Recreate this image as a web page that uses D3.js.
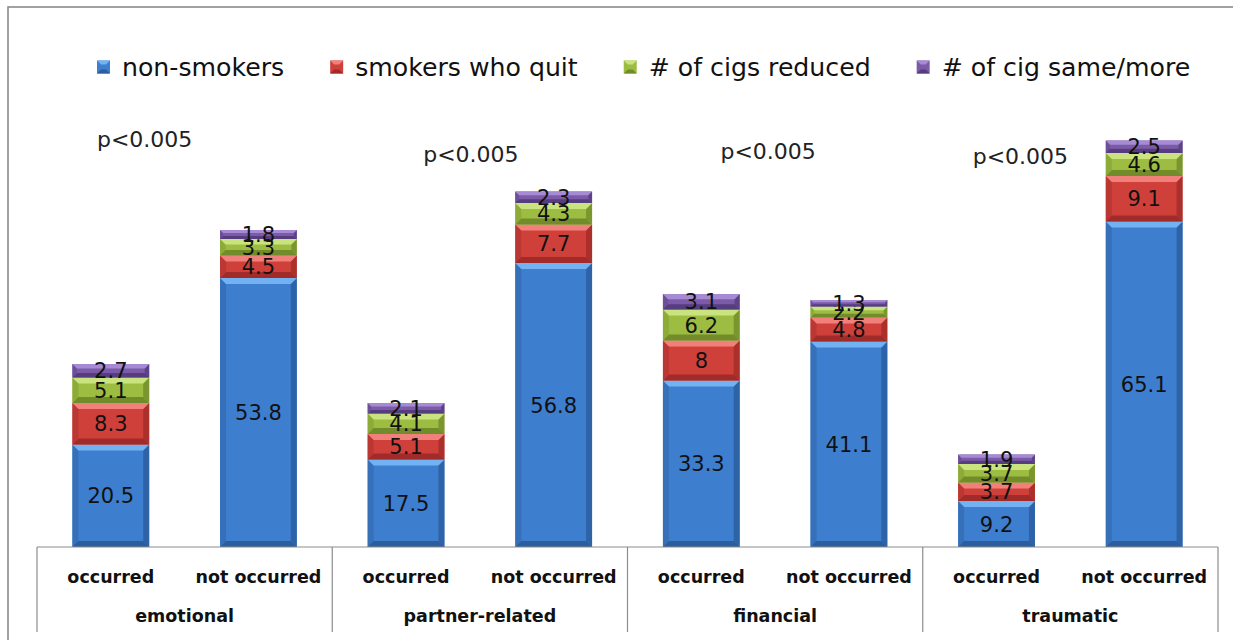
<!DOCTYPE html>
<html>
<head>
<meta charset="utf-8">
<script src="https://cdn.jsdelivr.net/npm/d3@7"></script>
<style>
  body { margin: 0; background: #fff; }
  svg { display: block; }
</style>
</head>
<body>
<script>
// data
const groups = ['emotional', 'partner-related', 'financial', 'traumatic']
const subCats = ['occurred', 'not occurred']
const seriesNames = ['non-smokers', 'smokers who quit', '# of cigs reduced', '# of cig same/more']
const nonSmokers = [20.5, 53.8, 17.5, 56.8, 33.3, 41.1, 9.2, 65.1]
const quit = [8.3, 4.5, 5.1, 7.7, 8, 4.8, 3.7, 9.1]
const reduced = [5.1, 3.3, 4.1, 4.3, 6.2, 2.2, 3.7, 4.6]
const sameMore = [2.7, 1.8, 2.1, 2.3, 3.1, 1.3, 1.9, 2.5]
const pNotes = ['p<0.005', 'p<0.005', 'p<0.005', 'p<0.005']

// layout
const W = 1233, H = 640
const plotLeft = 37, plotRight = 1218, plotBase = 547, plotTop = 97
const pNotePos = [[-40, 147], [-9, 162], [-7, 159], [-50, 164]] // offset from group centre, baseline
const colors = [
  { main: '#3e7ecf', light: '#72b2f2', dark: '#2c5d9c', side: '#3670b9' },
  { main: '#d0403b', light: '#f2807a', dark: '#a12b28', side: '#bb3734' },
  { main: '#9dbd42', light: '#c9e37e', dark: '#728c2b', side: '#8cab39' },
  { main: '#7b5ba8', light: '#a68ad3', dark: '#553d7f', side: '#6d4f98' }
]

// build rows for stacking
const keys = ['s0', 's1', 's2', 's3']
const rows = nonSmokers.map((v, i) => ({
  id: i,
  group: groups[Math.floor(i / 2)],
  sub: subCats[i % 2],
  s0: v, s1: quit[i], s2: reduced[i], s3: sameMore[i]
}))
const stacked = d3.stack().keys(keys)(rows)

const svg = d3.select('body').append('svg')
  .attr('width', W).attr('height', H)

// frame
svg.append('rect')
  .attr('x', 8).attr('y', 7).attr('width', W + 20).attr('height', H + 20)
  .attr('fill', 'none').attr('stroke', '#8a8a8a').attr('stroke-width', 1.6)

const x = d3.scaleBand().domain(rows.map(d => d.id)).range([plotLeft, plotRight])
  .paddingInner(0.48).paddingOuter(0.24)
const xg = d3.scaleBand().domain(groups).range([plotLeft, plotRight])
const y = d3.scaleLinear().domain([0, 90]).range([plotBase, plotTop])

// bars with bevel look
const layer = svg.append('g').selectAll('g')
  .data(stacked).enter().append('g')

layer.selectAll('g.seg')
  .data((s, si) => s.map(d => ({ d, si })))
  .enter().append('g').attr('class', 'seg')
  .each(function ({ d, si }) {
    const g = d3.select(this)
    const c = colors[si]
    const x0 = x(d.data.id), w = x.bandwidth()
    const y0 = y(d[1]), y1 = y(d[0]), h = y1 - y0
    const b = Math.min(6, h / 3)
    g.append('rect').attr('x', x0).attr('y', y0).attr('width', w).attr('height', h).attr('fill', c.main)
    const pts = a => a.map(p => p.join(',')).join(' ')
    g.append('polygon').attr('fill', c.side)
      .attr('points', pts([[x0, y0], [x0 + b, y0 + b], [x0 + b, y1 - b], [x0, y1]]))
    g.append('polygon').attr('fill', c.dark).attr('opacity', 0.8)
      .attr('points', pts([[x0 + w, y0], [x0 + w - b, y0 + b], [x0 + w - b, y1 - b], [x0 + w, y1]]))
    g.append('polygon').attr('fill', c.dark)
      .attr('points', pts([[x0, y1], [x0 + b, y1 - b], [x0 + w - b, y1 - b], [x0 + w, y1]]))
    g.append('polygon').attr('fill', c.light)
      .attr('points', pts([[x0, y0], [x0 + w, y0], [x0 + w - b, y0 + b], [x0 + b, y0 + b]]))
  })

// data labels (thin segments overlap, as in the original)
layer.selectAll('text')
  .data(s => s)
  .enter().append('text')
  .attr('x', d => x(d.data.id) + x.bandwidth() / 2)
  .attr('y', d => (y(d[0]) + y(d[1])) / 2)
  .attr('dy', '0.36em')
  .attr('text-anchor', 'middle')
  .attr('font-family', 'DejaVu Sans, sans-serif')
  .attr('font-size', 21)
  .attr('fill', '#111')
  .text(d => +(d[1] - d[0]).toFixed(1))

// category axis box
const axisG = svg.append('g').attr('stroke', '#8c8c8c').attr('stroke-width', 1.2)
axisG.append('line').attr('x1', plotLeft).attr('x2', plotRight).attr('y1', plotBase).attr('y2', plotBase)
axisG.selectAll('line.sep')
  .data(groups.map(g => xg(g)).concat([plotRight]))
  .enter().append('line').attr('class', 'sep')
  .attr('x1', d => d).attr('x2', d => d).attr('y1', plotBase).attr('y2', 632)

svg.append('g').selectAll('text')
  .data(rows).enter().append('text')
  .attr('x', d => x(d.id) + x.bandwidth() / 2)
  .attr('y', 583)
  .attr('text-anchor', 'middle')
  .attr('font-family', 'DejaVu Sans, sans-serif')
  .attr('font-weight', 'bold')
  .attr('font-size', 17.5)
  .attr('fill', '#111')
  .text(d => d.sub)

svg.append('g').selectAll('text')
  .data(groups).enter().append('text')
  .attr('x', d => xg(d) + xg.bandwidth() / 2)
  .attr('y', 622)
  .attr('text-anchor', 'middle')
  .attr('font-family', 'DejaVu Sans, sans-serif')
  .attr('font-weight', 'bold')
  .attr('font-size', 17.5)
  .attr('fill', '#111')
  .text(d => d)

// p-value notes
svg.append('g').selectAll('text')
  .data(pNotes).enter().append('text')
  .attr('x', (d, i) => xg(groups[i]) + xg.bandwidth() / 2 + pNotePos[i][0])
  .attr('y', (d, i) => pNotePos[i][1])
  .attr('text-anchor', 'middle')
  .attr('font-family', 'DejaVu Sans, sans-serif')
  .attr('font-size', 22)
  .attr('fill', '#222')
  .text(d => d)

// legend
const legend = svg.append('g')
let lx = 97
seriesNames.forEach((name, i) => {
  const item = legend.append('g').attr('transform', `translate(${lx},67)`)
  const c = colors[i]
  item.append('rect').attr('x', 0).attr('y', -6.5).attr('width', 13).attr('height', 13).attr('fill', c.main)
  item.append('polygon').attr('points', '0,-6.5 13,-6.5 9,-2.5 4,-2.5').attr('fill', c.light)
  item.append('polygon').attr('points', '0,6.5 13,6.5 9,2.5 4,2.5').attr('fill', c.dark)
  const t = item.append('text')
    .attr('x', 25).attr('dy', '0.36em')
    .attr('font-family', 'DejaVu Sans, sans-serif')
    .attr('font-size', 25.2)
    .attr('fill', '#111')
    .text(name)
  lx += 25 + t.node().getComputedTextLength() + 46
})
</script>
</body>
</html>
